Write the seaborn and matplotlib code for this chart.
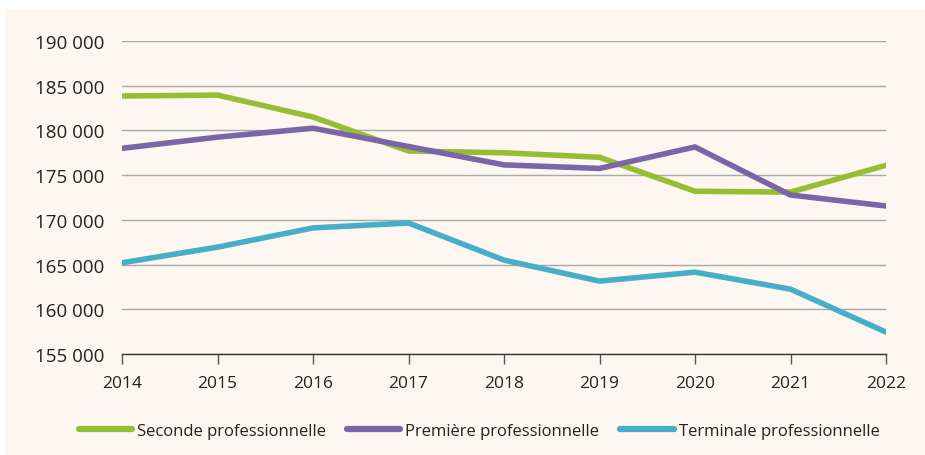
import pandas as pd
import matplotlib.pyplot as plt
import matplotlib.ticker as mticker
from matplotlib.patches import Rectangle
import seaborn as sns

# Effectifs par niveau de la voie professionnelle
annees = [2014, 2015, 2016, 2017, 2018, 2019, 2020, 2021, 2022]
seconde = [183850, 183950, 181500, 177700, 177500, 177000, 173200, 173100, 176100]
premiere = [178000, 179250, 180250, 178200, 176150, 175750, 178150, 172780, 171550]
terminale = [165200, 166950, 169100, 169650, 165500, 163150, 164150, 162250, 157450]

series = ['Seconde professionnelle', 'Première professionnelle', 'Terminale professionnelle']
couleurs = ['#95BE32', '#7B64A8', '#44AFC6']

df = pd.DataFrame({'annee': annees * 3,
                   'effectif': seconde + premiere + terminale,
                   'niveau': [s for s in series for _ in annees]})

sns.set_theme(style="white")
plt.rcParams['font.family'] = ['Open Sans', 'DejaVu Sans']

fond = '#FDF6F1'
fig = plt.figure(figsize=(9.25, 4.56), dpi=100, facecolor='white')
fig.patches.append(Rectangle((5 / 925, 0), 1, 1 - 10 / 456, transform=fig.transFigure,
                             facecolor=fond, edgecolor='none', zorder=-1))
ax = fig.add_axes([122 / 925, 1 - 355 / 456, (886 - 122) / 925, (355 - 42) / 456])
ax.set_facecolor(fond)

sns.lineplot(data=df, x='annee', y='effectif', hue='niveau', hue_order=series,
             palette=couleurs, linewidth=4, ax=ax, legend=False,
             solid_capstyle='round', zorder=3)

ax.set_xlim(2014, 2022)
ax.set_ylim(155000, 190000)
ax.set_xticks(annees)
ax.set_yticks(range(155000, 190001, 5000))
ax.yaxis.set_major_formatter(mticker.FuncFormatter(lambda v, p: f"{int(v):,}".replace(',', ' ')))
ax.grid(axis='y', color='#A8A8A8', linewidth=1)
ax.grid(axis='x', visible=False)
for s in ['top', 'right', 'left']:
    ax.spines[s].set_visible(False)
ax.spines['bottom'].set_color('#333333')
ax.spines['bottom'].set_linewidth(1)
ax.tick_params(axis='x', bottom=True, length=7, width=1, color='#555555',
               labelsize=12.5, pad=8, labelcolor='#222222')
ax.tick_params(axis='y', left=False, labelsize=13.5, pad=7, labelcolor='#222222')
ax.set_xlabel('')
ax.set_ylabel('')

handles = [plt.Line2D([], [], color=c, linewidth=4.5, solid_capstyle='round') for c in couleurs]
fig.legend(handles, series, loc='center', bbox_to_anchor=(0.518, 0.053), ncol=3,
           frameon=False, fontsize=12, handlelength=3.2, handletextpad=0.3,
           columnspacing=1.25, labelcolor='#222222')

plt.savefig('out.png', dpi=100, facecolor='white')
